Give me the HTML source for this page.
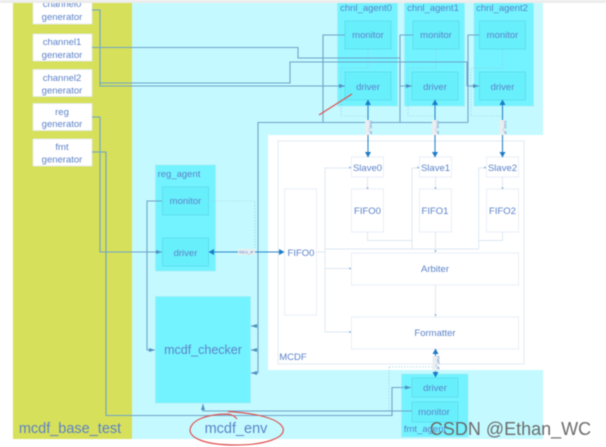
<!DOCTYPE html>
<html><head><meta charset="utf-8"><style>
html,body{margin:0;padding:0;background:#fff;width:606px;height:447px;overflow:hidden}
svg{display:block;filter:blur(.45px)}
text{font-family:"Liberation Sans",sans-serif;fill:#5b82c8;text-anchor:middle}
</style></head><body>
<svg width="606" height="447" viewBox="0 0 606 447" xmlns="http://www.w3.org/2000/svg">
<defs>
<marker id="a" markerUnits="userSpaceOnUse" markerWidth="7" markerHeight="6" refX="6" refY="3" orient="auto-start-reverse"><path d="M0 1L6 3L0 5z" fill="#4f8fc4"/></marker>
<marker id="b" markerUnits="userSpaceOnUse" markerWidth="6" markerHeight="7" refX="5" refY="3.500" orient="auto-start-reverse"><path d="M0 .5L5.500 3.500L0 6.500z" fill="#1d7cc8"/></marker>
</defs>
<rect width="606" height="447" fill="#fff"/>
<rect x="13" y="3" width="119" height="436" fill="#d6e05a"/>
<rect x="132" y="3" width="411" height="132" fill="#c4faff"/>
<rect x="132" y="3" width="136" height="436" fill="#c4faff"/>
<rect x="132" y="370" width="411" height="69" fill="#c4faff"/>
<rect x="268" y="135" width="275" height="235" fill="#fff"/>
<rect x="278" y="141" width="246" height="223" fill="#fff" stroke="#e1ebf3"/>

<g fill="#73f3ff" stroke="#a2ecf6" stroke-width=".7">
<rect x="337.500" y="3" width="60" height="103"/><rect x="404.500" y="3" width="60" height="103"/><rect x="474" y="3" width="59.500" height="103"/>
<rect x="155.500" y="165" width="60" height="106"/><rect x="155.500" y="296.500" width="95" height="106.500"/>
<rect x="401.500" y="374" width="66.500" height="63"/>
</g>
<g fill="#68effc" stroke="#5edbe8" stroke-width=".8">
<rect x="345" y="21" width="46" height="28"/><rect x="345" y="72" width="46" height="28"/>
<rect x="413" y="21" width="46" height="28"/><rect x="412" y="72" width="46" height="28"/>
<rect x="479.500" y="21" width="46" height="28"/><rect x="479.500" y="72" width="46" height="28"/>
<rect x="162.500" y="187" width="46" height="28"/><rect x="162.500" y="238" width="46" height="28"/>
<rect x="412" y="378" width="46" height="19"/><rect x="412" y="402" width="46" height="20"/>
</g>

<g fill="#fff" stroke="#e3eaf5" stroke-width=".8">
<rect x="33" y="-3" width="59" height="27"/><rect x="33" y="34" width="59" height="27"/><rect x="33" y="69.500" width="59" height="27"/><rect x="33" y="103.500" width="59" height="27"/><rect x="33" y="139" width="59" height="27"/>
<rect x="351.500" y="157" width="32" height="20"/><rect x="419.500" y="157" width="32" height="20"/><rect x="486.500" y="157" width="32" height="20"/>
<rect x="351.500" y="189" width="32" height="43"/><rect x="419.500" y="189" width="32" height="43"/><rect x="486.500" y="189" width="32" height="43"/>
<rect x="284.500" y="189" width="32" height="126"/>
<rect x="351.500" y="253" width="167" height="32"/><rect x="351.500" y="317" width="167" height="32"/>
</g>

<!-- MCDF internal thin lines -->
<g fill="none" stroke="#dbe7f2" stroke-width=".9">
<path d="M325 332V168H351M412 249V168H419M478.700 249V168H486"/>
<path d="M367.500 232V240.500H412M435.500 232V253M502.500 232V240.500H478.700M325 249H478.700M316.500 252H325M325 268.500H351M325 332H351M435.500 285V317M367.500 177V189M435.500 177V189M502.500 177V189"/>
</g>
<g fill="#7fa8d6"><circle cx="350" cy="167.500" r=".9"/><circle cx="418" cy="167.500" r=".9"/><circle cx="485" cy="167.500" r=".9"/><circle cx="367.500" cy="188" r=".9"/><circle cx="435.500" cy="188" r=".9"/><circle cx="502.500" cy="188" r=".9"/><circle cx="435.500" cy="251" r=".9"/><circle cx="350" cy="268.500" r=".9"/><circle cx="435.500" cy="315" r=".9"/><circle cx="350" cy="332" r=".9"/></g>

<!-- dotted feedback -->
<g fill="none" stroke="#8fc6d8" stroke-width=".6" stroke-dasharray="1.500 1.500">
<path d="M368 49V68M368 68H341V116H368M436 49V68M436 68H408V116H436M502.500 49V68H471V116H502M208 201H255V248M389 367V411M389 367H436"/>
</g>

<!-- generator/monitor wires -->
<g fill="none" stroke="#6ea3c9" stroke-width="1.100">
<path d="M92 10H100V86H345" marker-end="url(#a)"/>
<path d="M92 47.500H298V58H400V86H412" marker-end="url(#a)"/>
<path d="M100 83H290V62H467V86H479" marker-end="url(#a)"/>
<path d="M92 117H100V252H162" marker-end="url(#a)"/>
<path d="M92 152H106V415.500H392V387.500H411" marker-end="url(#a)"/>
<path d="M345 35H323V122.500"/>
<path d="M413 35H400V122.500"/>
<path d="M479 35H468V122.500"/>
<path d="M468 122.500H258V373"/>
<path d="M258 326H251" marker-end="url(#a)"/><path d="M258 350H251" marker-end="url(#a)"/><path d="M258 373H251" marker-end="url(#a)"/>
<path d="M162 201H147V350H155" marker-end="url(#a)"/>
<path d="M412 411H203V404" marker-end="url(#a)"/>
</g>

<!-- Blue bidirectional -->
<g fill="none" stroke="#2a86c8" stroke-width="1.100">
<path d="M368 100V157" marker-start="url(#b)" marker-end="url(#b)"/>
<path d="M435 100V157" marker-start="url(#b)" marker-end="url(#b)"/>
<path d="M502.500 100V157" marker-start="url(#b)" marker-end="url(#b)"/>
<path d="M209 252H284" marker-start="url(#b)" marker-end="url(#b)"/>
<path d="M435.500 349V377" marker-start="url(#b)" marker-end="url(#b)"/>
</g>
<g fill="#e9eef0"><rect x="365" y="120" width="6" height="15"/><rect x="432" y="120" width="6" height="15"/><rect x="499.500" y="120" width="6" height="15"/><rect x="432.500" y="356" width="6" height="15"/><rect x="238" y="249" width="17" height="6"/></g>
<g font-size="4" style="fill:#6b7b8c"><text x="0" y="0" transform="translate(369.500 127.500) rotate(90)">CH0_IF</text><text x="0" y="0" transform="translate(436.500 127.500) rotate(90)">CH1_IF</text><text x="0" y="0" transform="translate(504 127.500) rotate(90)">CH2_IF</text><text x="0" y="0" transform="translate(437 363) rotate(90)">FMT_IF</text><text x="246.500" y="253.500">REG_IF</text></g>

<!-- Labels -->
<g font-size="9.500">
<text x="62" y="7">channel0</text><text x="62" y="20">generator</text>
<text x="62" y="45">channel1</text><text x="62" y="58">generator</text>
<text x="62" y="81">channel2</text><text x="62" y="93.500">generator</text>
<text x="62" y="115">reg</text><text x="62" y="127">generator</text>
<text x="62" y="150">fmt</text><text x="62" y="162.500">generator</text>
<text x="366" y="11">chnl_agent0</text><text x="433" y="11">chnl_agent1</text><text x="502" y="11">chnl_agent2</text>
<text x="368" y="38">monitor</text><text x="436" y="38">monitor</text><text x="502.500" y="38">monitor</text>
<text x="368" y="90">driver</text><text x="435" y="90">driver</text><text x="502.500" y="90">driver</text>
<text x="179" y="177">reg_agent</text>
<text x="185.500" y="204">monitor</text><text x="185.500" y="256">driver</text>
<text x="367.500" y="171">Slave0</text><text x="435.500" y="171">Slave1</text><text x="502.500" y="171">Slave2</text>
<text x="367.500" y="214">FIFO0</text><text x="435" y="214">FIFO1</text><text x="502.500" y="214">FIFO2</text>
<text x="301" y="256">FIFO0</text>
<text x="435" y="272">Arbiter</text><text x="435" y="336">Formatter</text>
<text x="293" y="360">MCDF</text>
<text x="435" y="391">driver</text><text x="434" y="415">monitor</text>
<text x="425" y="432">fmt_agent</text>
</g>
<text x="203" y="354" font-size="12.500">mcdf_checker</text>
<text x="70" y="433" font-size="14.500">mcdf_base_test</text>
<text x="236" y="433" font-size="14.500">mcdf_env</text>

<!-- Red annotations -->
<g fill="none" stroke="#e05050" stroke-width="1.200">
<path d="M319 115L352 94"/>
<path d="M228 411.500C250 413 278 417 283 428C286 438 265 445 235 445C205 445 190 438 190 430C191 420 207 414 228 414C232 415 235 416 237 419"/>
</g>

<!-- watermark -->
<text x="510.500" y="435" font-size="18" style="fill:#6c6c6c">CSDN @Ethan_WC</text>
<rect x="0" y="0" width="606" height="3" fill="#ececec"/>
</svg>
</body></html>
